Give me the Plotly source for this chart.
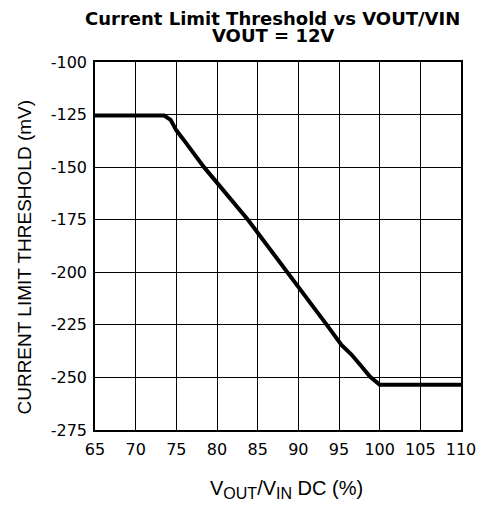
import plotly.graph_objects as go

duty_pct = [65, 73.5, 74.3, 75, 76, 78.4, 83.8, 88.7, 93.5, 95.3, 96.5, 97.6, 98.8, 100, 110]
threshold_mv = [-125.5, -125.5, -127.5, -132.5, -137.5, -150, -175, -200, -225, -234.5, -239, -244, -249.6, -253.5, -253.5]

x_ticks = [65, 70, 75, 80, 85, 90, 95, 100, 105, 110]
y_ticks = [-100, -125, -150, -175, -200, -225, -250, -275]

title_line1 = "Current Limit Threshold vs VOUT/VIN"
title_line2 = "VOUT = 12V"
x_title = ("V<sub><span style='font-size:16px'>OUT</span></sub>/"
           "V<sub><span style='font-size:16px'>IN</span></sub> DC (%)")
y_title = "CURRENT LIMIT THRESHOLD (mV)"

font = "DejaVu Sans, Arial, sans-serif"
font_arial = "Liberation Sans, Arial, sans-serif"

fig = go.Figure()
fig.add_trace(go.Scatter(x=duty_pct, y=threshold_mv, mode="lines",
                         line=dict(color="black", width=4), showlegend=False))

fig.update_layout(
    width=480, height=498,
    margin=dict(l=87, r=22, t=54, b=76),
    paper_bgcolor="white", plot_bgcolor="white",
    font=dict(family=font, size=16, color="black"),
    annotations=[
        dict(text="<b>" + title_line1 + "</b>", xref="paper", yref="paper",
             x=0.485, y=1.117, xanchor="center", yanchor="middle", showarrow=False,
             font=dict(family=font, size=18, color="black")),
        dict(text="<b>" + title_line2 + "</b>", xref="paper", yref="paper",
             x=0.485, y=1.072, xanchor="center", yanchor="middle", showarrow=False,
             font=dict(family=font, size=18, color="black")),
        dict(text=x_title, xref="paper", yref="paper",
             x=0.522, y=-0.163, xanchor="center", yanchor="middle", showarrow=False,
             font=dict(family=font_arial, size=20, color="black")),
        dict(text=y_title, xref="paper", yref="paper", textangle=-90,
             x=-0.1927, y=0.470, xanchor="center", yanchor="middle", showarrow=False,
             font=dict(family=font_arial, size=19, color="black")),
    ],
)
fig.update_xaxes(range=[65, 110], tickvals=x_ticks, ticktext=[str(v) for v in x_ticks],
                 showgrid=True, gridcolor="black", gridwidth=1,
                 showline=True, linecolor="black", linewidth=1.5, mirror=True,
                 ticks="", zeroline=False, tickfont=dict(size=16), ticklabelstandoff=4)
fig.update_yaxes(range=[-275, -100], tickvals=y_ticks, ticktext=[str(v) for v in y_ticks],
                 showgrid=True, gridcolor="black", gridwidth=1,
                 showline=True, linecolor="black", linewidth=1.5, mirror=True,
                 ticks="", zeroline=False, tickfont=dict(size=16), ticklabelstandoff=3)

fig.write_html("out.html")
